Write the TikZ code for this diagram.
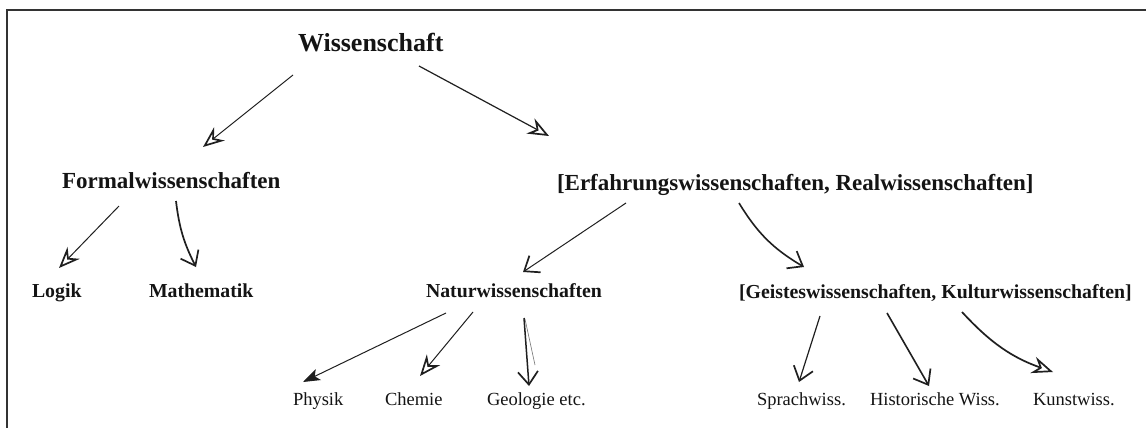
\documentclass[tikz,border=0pt]{standalone}
\usepackage{fontspec}
\setmainfont{Liberation Serif}
\usetikzlibrary{arrows.meta}
\tikzset{
  lbl/.style={anchor=base west, inner sep=0pt, outer sep=0pt, text=black!92},
  toplbl/.style={lbl, font=\fontsize{26}{30}\selectfont\bfseries},
  lvtwo/.style={lbl, font=\fontsize{23}{27}\selectfont\bfseries},
  lvthree/.style={lbl, font=\fontsize{19.8}{23}\selectfont\bfseries},
  leaf/.style={lbl, font=\fontsize{18.5}{22}\selectfont},
  conn/.style={draw=black!88, line width=1.2pt},
  hollow/.style={conn, -{Stealth[open, length=21pt, width=17pt, inset=7pt, line width=1.7pt]}},
  barb/.style={conn, -{Straight Barb[length=13pt, width=20pt, line width=1.7pt]}},
  solidhead/.style={conn, -{Stealth[length=17pt, width=12pt, inset=4pt]}},
  frameline/.style={draw=black!80, line width=2pt},
}
\begin{document}
\begin{tikzpicture}[x=1pt,y=1pt]
\useasboundingbox (0,0) rectangle (1146,-428);
\fill[white] (0,0) rectangle (1146,-428);
\draw[frameline] (1146,-10) -- (7,-10) -- (7,-428);

\node[toplbl] (W) at (298,-52) {Wissenschaft};
\node[lvtwo] (F) at (62,-188) {Formalwissenschaften};
\node[lvtwo] (E) at (557,-190) {[Erfahrungswissenschaften, Realwissenschaften]};
\node[lvthree] (L) at (32,-297) {Logik};
\node[lvthree] (M) at (149,-297) {Mathematik};
\node[lvthree] (N) at (426,-297) {Naturwissenschaften};
\node[lvthree] (G) at (739,-298) {[Geisteswissenschaften, Kulturwissenschaften]};
\node[leaf] (P) at (293,-405) {Physik};
\node[leaf] (C) at (385,-405) {Chemie};
\node[leaf] (Ge) at (487,-405) {Geologie etc.};
\node[leaf] (S) at (757,-405) {Sprachwiss.};
\node[leaf] (H) at (870,-405) {Historische Wiss.};
\node[leaf] (K) at (1033,-405) {Kunstwiss.};

% level 1 -> level 2
\draw[hollow, line width=1pt] ([shift={(-5,-23)}]W.base west) -- ([shift={(141,41)}]F.base west);
\draw[hollow] ([shift={(121,-14)}]W.base west) -- ([shift={(-8,54)}]E.base west);
% Formal
\draw[hollow, line width=1pt] ([shift={(57,-18)}]F.base west) -- ([shift={(27,29)}]L.base west);
\draw[barb, line width=1.7pt] ([shift={(114,-13)}]F.base west) to[bend right=10] ([shift={(47,30)}]M.base west);
% Erfahrung
\draw[barb, line width=1pt] ([shift={(69,-13)}]E.base west) -- ([shift={(97,25)}]N.base west);
\draw[barb, line width=1.6pt] ([shift={(182,-13)}]E.base west) to[bend right=14] ([shift={(65,31)}]G.base west);
% Natur
\draw[solidhead, line width=1pt] ([shift={(20,-16)}]N.base west) -- ([shift={(10,23)}]P.base west);
\draw[hollow, line width=1pt] ([shift={(47,-15)}]N.base west) -- ([shift={(35,29)}]C.base west);
\draw[barb, line width=1.5pt] ([shift={(98,-21)}]N.base west) -- ([shift={(42,19)}]Ge.base west);
\draw[draw=black!55, line width=0.6pt] ([shift={(99,-22)}]N.base west) -- ([shift={(48,40)}]Ge.base west);
% Geistes
\draw[barb, line width=1.2pt] ([shift={(81,-18)}]G.base west) -- ([shift={(42,23)}]S.base west);
\draw[barb, line width=1.6pt] ([shift={(148,-15)}]G.base west) -- ([shift={(59,19)}]H.base west);
\draw[hollow, line width=1.7pt] ([shift={(223,-14)}]G.base west) to[bend right=14] ([shift={(20,33)}]K.base west);
\end{tikzpicture}
\end{document}
